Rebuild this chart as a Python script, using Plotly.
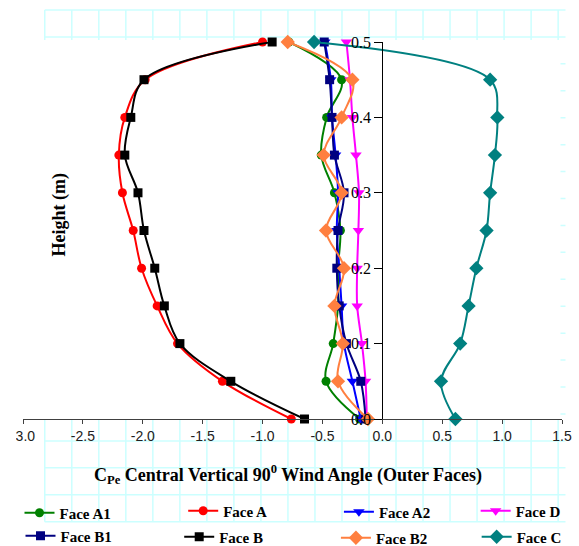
import plotly.graph_objects as go

# ---------------- data ----------------
heights = [0.0, 0.05, 0.10, 0.15, 0.20, 0.25, 0.30, 0.35, 0.40, 0.45, 0.50]

face_a1 = [-0.19, -0.47, -0.41, -0.37, -0.37, -0.35, -0.40, -0.51, -0.465, -0.34, -0.78]
face_a  = [-0.76, -1.335, -1.71, -1.88, -2.01, -2.08, -2.17, -2.20, -2.15, -1.98, -1.00]
face_a2 = [-0.18, -0.25, -0.32, -0.34, -0.36, -0.38, -0.37, -0.39, -0.42, -0.43, -0.48]
face_d  = [-0.13, -0.14, -0.17, -0.21, -0.21, -0.20, -0.195, -0.22, -0.25, -0.27, -0.30]
face_b1 = [-0.14, -0.18, -0.30, -0.36, -0.38, -0.37, -0.32, -0.40, -0.42, -0.44, -0.485]
face_b  = [-0.65, -1.265, -1.69, -1.82, -1.90, -1.99, -2.04, -2.15, -2.10, -1.99, -0.92]
face_b2 = [-0.12, -0.37, -0.33, -0.40, -0.32, -0.47, -0.34, -0.49, -0.34, -0.25, -0.79]
face_c  = [0.61, 0.49, 0.65, 0.72, 0.785, 0.87, 0.90, 0.94, 0.96, 0.90, -0.57]

series_names = ["Face A1", "Face A", "Face A2", "Face D",
                "Face B1", "Face B", "Face B2", "Face C"]
series_values = [face_a1, face_a, face_a2, face_d, face_b1, face_b, face_b2, face_c]

x_tick_vals = [-3.0, -2.5, -2.0, -1.5, -1.0, -0.5, 0.0, 0.5, 1.0, 1.5]
x_tick_text = ["-3.0", "-2.5", "-2.0", "-1.5", "-1.0", "-0.5", "0.0", "0.5", "1.0", "1.5"]
y_tick_vals = [0.0, 0.1, 0.2, 0.3, 0.4, 0.5]
y_tick_text = ["0.0", "0.1", "0.2", "0.3", "0.4", "0.5"]

# ---------------- styles ----------------
colors = ["#008000", "#FF0000", "#0000FF", "#FF00FF",
          "#000080", "#000000", "#FF7F3F", "#008080"]
symbols = ["circle", "circle", "triangle-down", "triangle-down",
           "square", "square", "diamond", "diamond"]
msizes = [9, 9, 10, 10, 9, 9, 11, 11]

W_FIG, H_FIG = 579, 546
L, R, T, B = 22.5, 562.5, 42, 419
PW, PH = R - L, B - T


def fx(px):
    return (px - L) / PW


def fy(py):
    return (B - py) / PH


# legend anchor positions (pixel: text start x, centre y)
leg_pos = [(62, 513), (226, 511), (382, 512), (519, 511),
           (63, 536), (222, 537), (379, 538), (520, 537)]

SERIF = "Liberation Serif, Times New Roman, serif"
SANS = "Liberation Sans, Arial, sans-serif"

fig = go.Figure()
for i, (name, vals) in enumerate(zip(series_names, series_values)):
    lg = "legend" if i == 0 else f"legend{i+1}"
    fig.add_trace(go.Scatter(
        x=vals, y=heights, name=name, mode="lines+markers",
        line=dict(color=colors[i], width=2, shape="spline", smoothing=1),
        marker=dict(symbol=symbols[i], size=msizes[i], color=colors[i]),
        cliponaxis=False, legend=lg,
    ))

# background spreadsheet grid
shapes = []
gx0, gy0, dx, dy = 44.3, 10.0, 27.07, 26.93
gx_end, gy_end = 566.0, 521.7
for i in range(20):
    xx = gx0 + dx * i
    shapes.append(dict(type="line", xref="paper", yref="paper",
                       x0=fx(xx), x1=fx(xx), y0=fy(gy0), y1=fy(gy_end),
                       line=dict(color="#CCFFFF", width=1.5), layer="below"))
for j in range(20):
    yy = gy0 + dy * j
    shapes.append(dict(type="line", xref="paper", yref="paper",
                       x0=fx(gx0), x1=fx(gx_end), y0=fy(yy), y1=fy(yy),
                       line=dict(color="#CCFFFF", width=1.5), layer="below"))
# white plot area covering the grid
shapes.append(dict(type="rect", xref="paper", yref="paper",
                   x0=fx(0), x1=fx(561), y0=fy(419), y1=fy(40),
                   fillcolor="white", line=dict(width=0), layer="below"))
# mask clipping the left edge of the chart
shapes.append(dict(type="rect", xref="paper", yref="paper",
                   x0=fx(0), x1=fx(15.5), y0=fy(448), y1=fy(424),
                   fillcolor="white", line=dict(width=0), layer="above"))

layout = dict(
    width=W_FIG, height=H_FIG,
    margin=dict(l=L, r=W_FIG - R, t=T, b=H_FIG - B, autoexpand=False),
    paper_bgcolor="white", plot_bgcolor="rgba(0,0,0,0)",
    showlegend=True,
    xaxis=dict(range=[-3.0, 1.5], tickvals=x_tick_vals, ticktext=x_tick_text,
               showgrid=False, zeroline=False, showline=True,
               linecolor="#404040", linewidth=1.2,
               ticks="outside", ticklen=4, tickcolor="#404040",
               tickfont=dict(family=SANS, size=14, color="#202020"),
               anchor="y", domain=[0, 1]),
    yaxis=dict(range=[0, 0.5], tickvals=y_tick_vals, ticktext=y_tick_text,
               showgrid=False, zeroline=False, showline=True,
               linecolor="#000000", linewidth=1.2,
               ticks="outside", ticklen=8, tickcolor="#000000",
               tickfont=dict(family=SERIF, size=16, color="black"),
               anchor="free", position=fx(382.5), domain=[0, 1]),
    shapes=shapes,
    annotations=[
        dict(text="<b>C<sub>Pe</sub> Central Vertical 90<sup>0</sup> Wind Angle (Outer Faces)</b>",
             xref="paper", yref="paper", x=fx(288), y=fy(474),
             xanchor="center", yanchor="middle", showarrow=False,
             font=dict(family=SERIF, size=18, color="black")),
        dict(text="<b>Height (m)</b>", textangle=-90,
             xref="paper", yref="paper", x=fx(59), y=fy(215),
             xanchor="center", yanchor="middle", showarrow=False,
             font=dict(family=SERIF, size=18, color="black")),
    ],
)

for i, (px, py) in enumerate(leg_pos):
    key = "legend" if i == 0 else f"legend{i+1}"
    layout[key] = dict(x=fx(px - 43), y=fy(py), xanchor="left", yanchor="middle",
                       bgcolor="rgba(0,0,0,0)", borderwidth=0,
                       font=dict(family=SERIF, size=15, color="black", weight="bold"),
                       itemwidth=30)

fig.update_layout(**layout)
fig.write_html("out.html",
               config={"displayModeBar": False},
               post_script="document.body.style.margin='0';document.body.style.padding='0';")
